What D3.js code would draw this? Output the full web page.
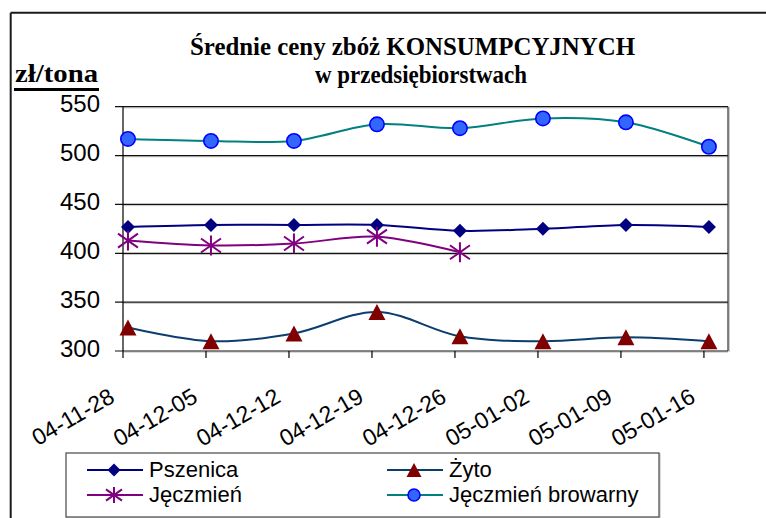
<!DOCTYPE html>
<html>
<head>
<meta charset="utf-8">
<script src="https://cdn.jsdelivr.net/npm/d3@7/dist/d3.min.js"></script>
<style>
html,body{margin:0;padding:0;background:#fff;}
svg{display:block;}
</style>
</head>
<body>
<svg id="chart" width="766" height="518"></svg>
<script>
// ---- data ----
const categories = ["04-11-28","04-12-05","04-12-12","04-12-19","04-12-26","05-01-02","05-01-09","05-01-16"];
const pszenica = [427,429,429,429,423,425,429,427];
const zyto     = [324,310,318,340,315,310,314,310];
const jeczmien = [413,408,410,417,401,null,null,null];
const browarny = [517,515,515,532,528,538,534,509];
const yTicks   = [300,350,400,450,500,550];
const titleLines = ["Średnie ceny zbóż KONSUMPCYJNYCH","w przedsiębiorstwach"];
const unitLabel = "zł/tona";
const seriesNames = ["Pszenica","Żyto","Jęczmień","Jęczmień browarny"];

// ---- layout ----
const L = 123, R = 728, T = 106.7, B = 351;
const svg = d3.select("#chart");
const x = d3.scaleLinear().domain([0, 7.29]).range([L, R]);
const markerShift = 0.06; // data points sit slightly right of the tick
const y = d3.scaleLinear().domain([300, 550]).range([B, T]);

// outer frame
svg.append("line").attr("x1",10.7).attr("y1",12.7).attr("x2",766).attr("y2",12.7)
  .attr("stroke","#1a1a1a").attr("stroke-width",2);
svg.append("line").attr("x1",10.7).attr("y1",12.7).attr("x2",10.7).attr("y2",518)
  .attr("stroke","#1a1a1a").attr("stroke-width",2);

// title
const tl = [{t:titleLines[0], cx:412.5, y:54.5, w:445, fs:26},{t:titleLines[1], cx:421, y:83, w:212, fs:26}];
tl.forEach(d=>{
  svg.append("text").attr("x",d.cx).attr("y",d.y).attr("text-anchor","middle")
    .attr("font-family","'Liberation Serif','Times New Roman',serif").attr("font-weight","bold")
    .attr("font-size",d.fs).attr("textLength",d.w).attr("lengthAdjust","spacingAndGlyphs")
    .attr("fill","#000").text(d.t);
});
// unit label
svg.append("text").attr("x",15).attr("y",82).attr("font-family","'Liberation Serif','Times New Roman',serif")
  .attr("font-weight","bold").attr("font-size",26).attr("textLength",83).attr("lengthAdjust","spacingAndGlyphs")
  .text(unitLabel);
svg.append("rect").attr("x",14).attr("y",88).attr("width",85).attr("height",3).attr("fill","#000");

// gridlines (with faint shadow)
const grid = svg.append("g");
yTicks.forEach(v=>{
  grid.append("line").attr("x1",L).attr("x2",R).attr("y1",y(v)+1.2).attr("y2",y(v)+1.2)
    .attr("stroke","#c8c8c8").attr("stroke-width",1);
  grid.append("line").attr("x1",L-8).attr("x2",R).attr("y1",y(v)).attr("y2",y(v))
    .attr("stroke","#111").attr("stroke-width",1.2);
  svg.append("text").attr("x",100).attr("y",y(v)+5.6).attr("text-anchor","end")
    .attr("font-family","'Liberation Sans',Arial,sans-serif").attr("font-size",24).attr("fill","#000")
    .text(v);
});
// plot borders
svg.append("line").attr("x1",R+1.2).attr("x2",R+1.2).attr("y1",T).attr("y2",B+1)
  .attr("stroke","#c0c0c0").attr("stroke-width",1.2);
svg.append("line").attr("x1",R).attr("x2",R).attr("y1",T).attr("y2",B)
  .attr("stroke","#333").attr("stroke-width",1.2);
svg.append("line").attr("x1",L).attr("x2",L).attr("y1",T).attr("y2",B+7)
  .attr("stroke","#000").attr("stroke-width",1.2);

// x ticks & labels
categories.forEach((c,i)=>{
  const xt = x(i);
  if(i>0) svg.append("line").attr("x1",xt).attr("x2",xt).attr("y1",B).attr("y2",B+7)
    .attr("stroke","#000").attr("stroke-width",1.2);
  svg.append("text").attr("transform",`translate(${xt-7},401) rotate(-30)`)
    .attr("text-anchor","end").attr("font-family","'Liberation Sans',Arial,sans-serif")
    .attr("font-size",23).attr("fill","#000").text(c);
});

// markers
function diamond(g, cx, cy, r, col){
  g.append("path").attr("d",`M${cx},${cy-r}L${cx+r},${cy}L${cx},${cy+r}L${cx-r},${cy}Z`).attr("fill",col);
}
function triangle(g, cx, cy, w, h, col){
  g.append("path").attr("d",`M${cx},${cy-h/2}L${cx+w/2},${cy+h/2}L${cx-w/2},${cy+h/2}Z`).attr("fill",col);
}
function star(g, cx, cy, r, col){
  const d = `M${cx},${cy-r}L${cx},${cy+r}M${cx-r},${cy-r*0.7}L${cx+r},${cy+r*0.7}M${cx-r},${cy+r*0.7}L${cx+r},${cy-r*0.7}`;
  g.append("path").attr("d",d).attr("stroke",col).attr("stroke-width",2).attr("fill","none");
}
function circle(g, cx, cy, r){
  g.append("circle").attr("cx",cx).attr("cy",cy).attr("r",r).attr("fill","#3366FF")
    .attr("stroke","#0000FF").attr("stroke-width",1.6);
}

const series = [
  {name:seriesNames[3], vals:browarny, line:"#008080", mk:(g,a,b)=>circle(g,a,b,7.2)},
  {name:seriesNames[0], vals:pszenica, line:"#000080", mk:(g,a,b)=>diamond(g,a,b,7,"#000080")},
  {name:seriesNames[2], vals:jeczmien, line:"#800080", mk:(g,a,b)=>star(g,a,b,10,"#800080")},
  {name:seriesNames[1], vals:zyto, line:"#0B3D6E", mk:(g,a,b)=>triangle(g,a,b,17,16,"#800000")}
];
const lineGen = d3.line().defined(d=>d.v!=null).x(d=>x(d.i+markerShift)).y(d=>y(d.v))
  .curve(d3.curveCatmullRom.alpha(0.5));
const plot = svg.append("g");
series.forEach(s=>{
  const pts = s.vals.map((v,i)=>({i,v}));
  plot.append("path").attr("d",lineGen(pts)).attr("fill","none").attr("stroke",s.line).attr("stroke-width",2);
});
series.forEach(s=>{
  const g = plot.append("g");
  s.vals.forEach((v,i)=>{ if(v!=null) s.mk(g, x(i+markerShift), y(v)); });
});

// legend
svg.append("rect").attr("x",67).attr("y",454).attr("width",593).attr("height",64)
  .attr("fill","none").attr("stroke","#c0c0c0").attr("stroke-width",1.2);
svg.append("rect").attr("x",66).attr("y",453).attr("width",593).attr("height",64)
  .attr("fill","#fff").attr("stroke","#555").attr("stroke-width",1.3);
const legendItems = [
  {s:series[1], col:0, row:0},
  {s:series[3], col:1, row:0},
  {s:series[2], col:0, row:1},
  {s:series[0], col:1, row:1}
];
const colX = [87, 387], rowY = [470, 495];
legendItems.forEach(it=>{
  const g = svg.append("g");
  const x0 = colX[it.col], yy = rowY[it.row];
  g.append("line").attr("x1",x0).attr("x2",x0+56).attr("y1",yy).attr("y2",yy)
    .attr("stroke",it.s.line).attr("stroke-width",2);
  if(it.s.name===seriesNames[3]) circle(g,x0+27,yy,6);
  else if(it.s.name===seriesNames[0]) diamond(g,x0+27,yy,6.5,"#000080");
  else if(it.s.name===seriesNames[2]) star(g,x0+27,yy,8,"#800080");
  else triangle(g,x0+27,yy,15,14,"#800000");
  g.append("text").attr("x",x0+62).attr("y",yy+7).attr("font-family","'Liberation Sans',Arial,sans-serif")
    .attr("font-size",22).attr("fill","#000").text(it.s.name);
});
</script>
</body>
</html>
